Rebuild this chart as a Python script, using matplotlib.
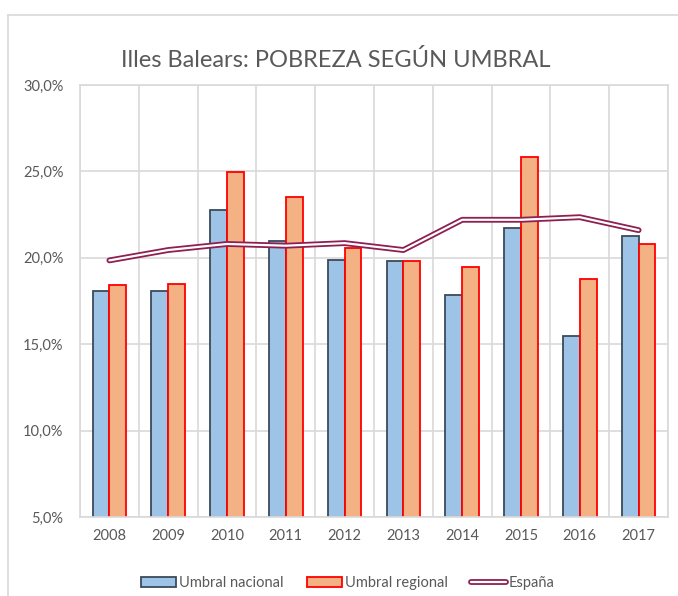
import matplotlib
matplotlib.use("Agg")
import matplotlib.pyplot as plt
from matplotlib.lines import Line2D
from matplotlib.ticker import FuncFormatter, MultipleLocator
from matplotlib.legend_handler import HandlerTuple
import numpy as np

plt.rcParams['font.family'] = ['Lato', 'DejaVu Sans']

# datos
years = ["2008", "2009", "2010", "2011", "2012", "2013", "2014", "2015", "2016", "2017"]
umbral_nacional = [18.1, 18.1, 22.75, 21.0, 19.85, 19.8, 17.85, 21.7, 15.5, 21.25]
umbral_regional = [18.4, 18.5, 24.95, 23.5, 20.55, 19.8, 19.45, 25.85, 18.8, 20.8]
espana = [19.85, 20.45, 20.8, 20.7, 20.85, 20.45, 22.2, 22.2, 22.35, 21.6]

fig = plt.figure(figsize=(6.78, 5.96), dpi=100)
ax = fig.add_axes([80 / 678, 79 / 596, 588 / 678, 432 / 596])

x = np.arange(len(years))
w = 0.285
grid_c = "#D9D9D9"
text_c = "#595959"

# rejilla vertical entre categorías y horizontal
for b in np.arange(-0.5, len(years), 1.0):
    ax.axvline(b, color=grid_c, lw=1.2, zorder=0)
ax.yaxis.grid(True, color=grid_c, lw=1.2, zorder=0)
ax.set_axisbelow(True)

ax.bar(x - w / 2, umbral_nacional, w, color="#9DC3E6", edgecolor="#3B4A5A",
       linewidth=1.3, zorder=2, label="Umbral nacional")
ax.bar(x + w / 2, umbral_regional, w, color="#F4B183", edgecolor="#FF0000",
       linewidth=1.3, zorder=2, label="Umbral regional")

# línea doble para España
l1, = ax.plot(x, espana, color="#8E1F52", lw=4.2, solid_capstyle="round", zorder=3)
l2, = ax.plot(x, espana, color="white", lw=1.6, solid_capstyle="round", zorder=4)

ax.set_xlim(-0.5, len(years) - 0.5)
ax.set_ylim(5, 30)
ax.yaxis.set_major_locator(MultipleLocator(5))
ax.yaxis.set_major_formatter(FuncFormatter(lambda v, p: f"{v:.1f}%".replace(".", ",")))
ax.set_xticks(x)
ax.set_xticklabels(years)
ax.tick_params(axis="both", length=0, labelsize=10.5, colors=text_c, pad=9)
ax.tick_params(axis="y", pad=12)
for s in ax.spines.values():
    s.set_color(grid_c)
    s.set_linewidth(1.2)

fig.text(336 / 678, 1 - 60 / 596, "Illes Balears: POBREZA SEGÚN UMBRAL", ha="center",
         va="center", fontsize=17, color="#595959")

handles, labels = ax.get_legend_handles_labels()
handles.append((l1, l2))
labels.append("España")
fig.legend(handles, labels, loc="center", bbox_to_anchor=(348 / 678, 1 - 583 / 596), ncol=3,
           frameon=False, fontsize=10.5, labelcolor=text_c, handlelength=2.4,
           handleheight=0.7, handletextpad=0.2, columnspacing=1.6,
           handler_map={tuple: HandlerTuple(ndivide=1)})

# marco del gráfico
fig.add_artist(Line2D([8 / 678, 8 / 678], [0, 1 - 15 / 596], transform=fig.transFigure,
                      color=grid_c, lw=1.2))
fig.add_artist(Line2D([8 / 678, 1], [1 - 15 / 596, 1 - 15 / 596], transform=fig.transFigure,
                      color=grid_c, lw=1.2))

fig.savefig("out.png", dpi=100)
